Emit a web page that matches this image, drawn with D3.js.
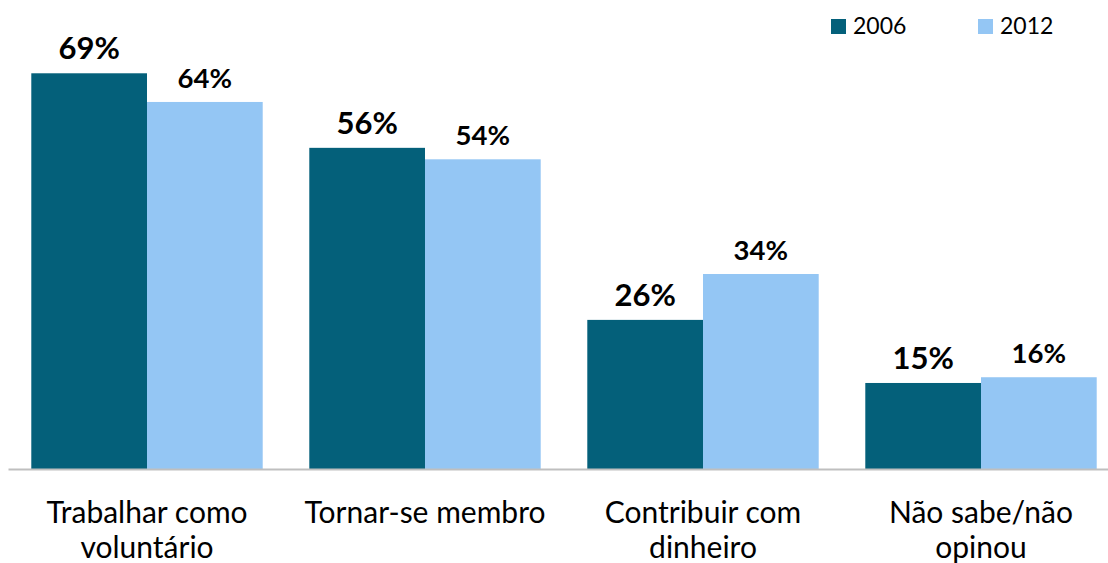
<!DOCTYPE html>
<html>
<head>
<meta charset="utf-8">
<script src="https://cdn.jsdelivr.net/npm/d3@7/dist/d3.min.js"></script>
<style>
  html, body { margin: 0; padding: 0; background: #ffffff; }
  svg { display: block; }
  text { font-family: Lato, "Open Sans", "Liberation Sans", sans-serif; fill: #000; }
</style>
</head>
<body>
<svg id="chart" width="1108" height="563"></svg>
<script>
// Categories (each label split into its two display lines)
const categories = ["Trabalhar como voluntário", "Tornar-se membro", "Contribuir com dinheiro", "Não sabe/não opinou"];
const categoryLines = [["Trabalhar como", "voluntário"], ["Tornar-se membro"], ["Contribuir com", "dinheiro"], ["Não sabe/não", "opinou"]];
const seriesNames = ["2006", "2012"];
const values2006 = [69, 56, 26, 15];
const values2012 = [64, 54, 34, 16];
const seriesColors = ["#04607a", "#94c6f4"];

const svg = d3.select("#chart");
const baseline = 469;

const x0 = d3.scaleBand()
  .domain(categories)
  .range([8, 1120])
  .paddingInner(0.1676)
  .paddingOuter(0.0838);

const x1 = d3.scaleBand()
  .domain(seriesNames)
  .range([0, x0.bandwidth()]);

const y = d3.scaleLinear()
  .domain([0, 70])
  .range([baseline, baseline - 5.735 * 70]);

const color = d3.scaleOrdinal().domain(seriesNames).range(seriesColors);

const rows = categories.map((c, i) => ({
  cat: c,
  vals: [
    { s: "2006", v: values2006[i] },
    { s: "2012", v: values2012[i] }
  ]
}));

// Bars
const groups = svg.append("g")
  .selectAll("g")
  .data(rows)
  .join("g")
  .attr("transform", d => `translate(${x0(d.cat)},0)`);

groups.selectAll("rect")
  .data(d => d.vals)
  .join("rect")
  .attr("x", d => x1(d.s))
  .attr("y", d => y(d.v))
  .attr("width", x1.bandwidth())
  .attr("height", d => y(0) - y(d.v))
  .attr("fill", d => color(d.s));

// Value labels above bars
groups.selectAll("text.val")
  .data(d => d.vals)
  .join("text")
  .attr("class", "val")
  .attr("x", d => x1(d.s) + x1.bandwidth() / 2)
  .attr("y", d => y(d.v) - 14)
  .attr("text-anchor", "middle")
  .attr("font-weight", "bold")
  .attr("font-size", d => d.s === "2006" ? 31 : 27.5)
  .text(d => d.v + "%");

// Baseline axis
const xAxis = d3.axisBottom(x0).tickSize(0).tickFormat("");
const axisG = svg.append("g")
  .attr("transform", `translate(0,${baseline})`)
  .call(xAxis);
axisG.select(".domain").attr("stroke", "#bfbfbf").attr("stroke-width", 2);

// Category labels
const catLabels = svg.append("g")
  .selectAll("text")
  .data(categories)
  .join("text")
  .attr("x", d => x0(d) + x0.bandwidth() / 2)
  .attr("y", 523)
  .attr("text-anchor", "middle")
  .attr("font-size", 30);

catLabels.selectAll("tspan")
  .data((d, i) => categoryLines[i])
  .join("tspan")
  .attr("x", function () { return d3.select(this.parentNode).attr("x"); })
  .attr("dy", (d, i) => i === 0 ? 0 : 35)
  .text(d => d);

// Legend
const legendX = [831, 978];
const legend = svg.append("g")
  .selectAll("g")
  .data(seriesNames)
  .join("g")
  .attr("transform", (d, i) => `translate(${legendX[i]},19)`);

legend.append("rect")
  .attr("width", 15)
  .attr("height", 15)
  .attr("fill", d => color(d));

legend.append("text")
  .attr("x", 22)
  .attr("y", 15)
  .attr("font-size", 23)
  .text(d => d);
</script>
</body>
</html>
